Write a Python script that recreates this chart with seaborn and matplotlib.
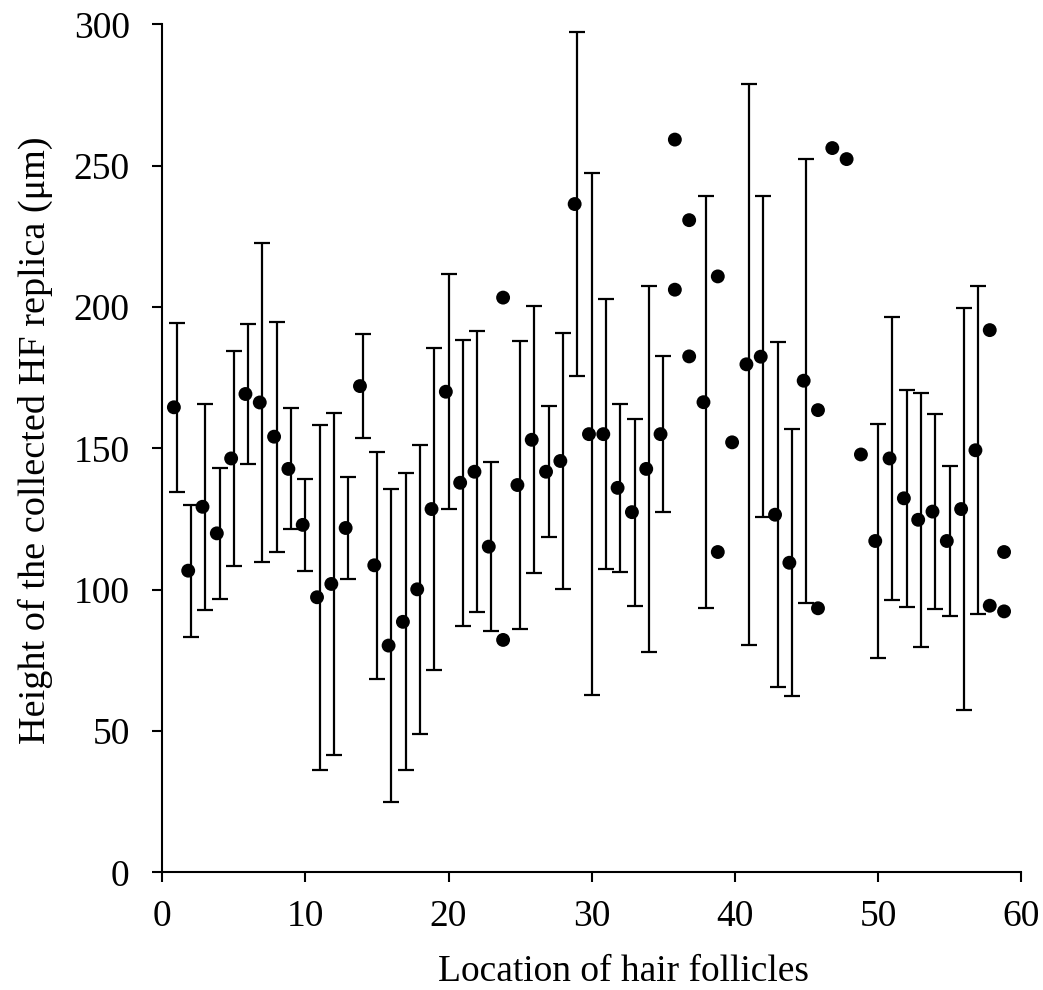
import matplotlib
matplotlib.use("Agg")
import matplotlib.pyplot as plt
import numpy as np
import pandas as pd
import seaborn as sns

# Locations measured several times: mean height and standard deviation (µm)
bar_loc = [1, 2, 3, 4, 5, 6, 7, 8, 9, 10, 11, 12, 13, 14, 15, 16, 17, 18, 19, 20,
           21, 22, 23, 25, 26, 27, 28, 29, 30, 31, 32, 33, 34, 35, 38,
           41, 42, 43, 44, 45, 50, 51, 52, 53, 54, 55, 56, 57]
bar_mean = [164.5, 106.7, 129.3, 119.9, 146.4, 169.2, 166.2, 154.1, 142.7, 122.9,
            97.3, 102.0, 121.8, 172.0, 108.6, 80.2, 88.6, 100.1, 128.5, 170.0,
            137.8, 141.7, 115.2, 137.0, 153.0, 141.7, 145.5, 236.4, 155.0, 155.0,
            136.0, 127.4, 142.7, 155.0, 166.3,
            179.7, 182.4, 126.5, 109.5, 173.9, 117.2, 146.4, 132.3, 124.7, 127.6,
            117.2, 128.5, 149.3]
bar_sd = [29.8, 23.3, 36.5, 23.2, 37.9, 24.6, 56.3, 40.7, 21.4, 16.2,
          61.0, 60.6, 18.0, 18.5, 40.2, 55.3, 52.5, 51.1, 56.8, 41.6,
          50.5, 49.7, 29.8, 51.1, 47.3, 23.2, 45.4, 61.0, 92.3, 47.8,
          29.8, 33.1, 64.8, 27.5, 72.8,
          99.3, 56.7, 61.0, 47.3, 78.5, 41.5, 50.2, 38.3, 44.9, 34.5,
          26.4, 71.0, 58.1]

# Locations with one or two individual measurements (no error bar)
point_loc = [24, 24, 36, 36, 37, 37, 39, 39, 40, 46, 46, 47, 48, 49, 58, 58, 59, 59]
point_height = [203.3, 82.2, 259.2, 206.1, 230.7, 182.5, 210.8, 113.3, 152.1,
                163.5, 93.4, 256.2, 252.3, 147.8, 191.8, 94.3, 113.3, 92.3]

x_ticks = [0, 10, 20, 30, 40, 50, 60]
y_ticks = [0, 50, 100, 150, 200, 250, 300]

sns.set_theme(style="ticks")
plt.rcParams["font.family"] = ["Liberation Serif", "DejaVu Serif"]
plt.rcParams["axes.linewidth"] = 1.5

fig = plt.figure(figsize=(10.43, 9.9), dpi=100)
ax = fig.add_axes([0.1556, 0.1189, 0.8234, 0.8566])

dots = pd.DataFrame({
    "location": bar_loc + point_loc,
    "height": bar_mean + point_height,
})
marker_shift = -0.19
dots["x"] = dots["location"] + marker_shift

ax.errorbar(bar_loc, bar_mean, yerr=bar_sd, fmt="none", ecolor="black",
            elinewidth=1.6, capsize=5.8, capthick=1.6, zorder=2)
sns.scatterplot(data=dots, x="x", y="height", ax=ax, color="black",
                s=100, edgecolor="none", zorder=3, legend=False)

ax.set_xlim(0, 60)
ax.set_ylim(0, 300)
ax.set_xticks(x_ticks)
ax.set_yticks(y_ticks)
ax.tick_params(axis="both", direction="out", length=7.5, width=1.5,
               labelsize=27, colors="black")
ax.tick_params(axis="x", pad=12)
ax.tick_params(axis="y", pad=16)

ax.set_xlabel("Location of hair follicles", fontsize=27, color="black")
ax.set_ylabel("Height of the collected HF replica (\u03bcm)", fontsize=27.5,
              color="black")
ax.xaxis.set_label_coords(0.5365, -0.097)
ax.yaxis.set_label_coords(-0.127, 0.51)

sns.despine(ax=ax)
for side in ("left", "bottom"):
    ax.spines[side].set_color("black")

fig.savefig("out.png", dpi=100)
